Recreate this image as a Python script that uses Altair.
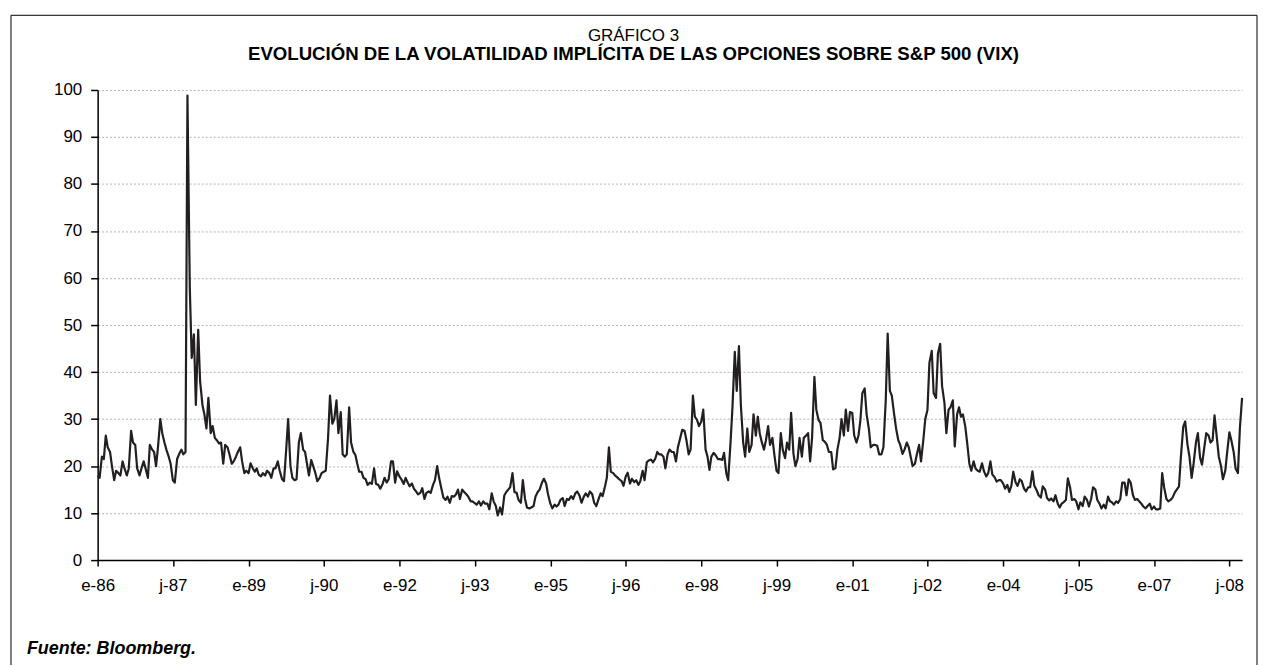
import json
import altair as alt
import pandas as pd

START = "1986-01-01"
VIX = [
    18, 17.5, 22, 21.5, 26.5, 24, 23, 20, 17, 19,
    18.5, 18, 21, 19.5, 18, 19.5, 27.5, 25, 24.5, 19.5,
    18, 19.5, 21, 19.5, 17.5, 24.5, 23.5, 23, 20, 24,
    30, 27, 25, 23.5, 22, 20.5, 17, 16.5, 21.5, 22.5,
    23.5, 22.5, 23, 98.8, 58, 43, 48, 33, 49, 38,
    33, 31, 28, 34.5, 27, 28.5, 26, 25.5, 24.8, 25,
    20.5, 24.5, 24, 22.5, 20.5, 21, 22, 23, 24, 21,
    18.5, 19, 18.5, 20.6, 19.5, 18.8, 19.5, 18.2, 17.8, 18.5,
    18, 19, 18.5, 17.5, 19.5, 19.5, 21, 19, 17.2, 16.8,
    23.5, 30, 20, 17.5, 17, 17.2, 25, 27, 23.5, 23,
    20.5, 18, 21.3, 20, 18.5, 16.8, 17.5, 18.5, 18.8, 19,
    26, 35, 29, 30, 34, 27, 31.5, 22.5, 22, 22.5,
    32.5, 25, 23, 22.4, 20.5, 18.8, 18.8, 17.5, 17.2, 16,
    16.5, 16.2, 19.5, 16.2, 16, 15.2, 16.2, 17.5, 16.5, 17.2,
    21, 21, 16.5, 18.9, 17.8, 17.2, 16.2, 17.5, 16.5, 15.7,
    16.3, 15.2, 14.6, 14, 14.3, 15.3, 13, 14.3, 14.6, 14.3,
    16, 17, 20, 17.5, 15.2, 13.3, 12.8, 13.5, 12.2, 13.6,
    13.5, 14, 15, 13, 15, 14.5, 14, 13.5, 12.5, 12.5,
    12.1, 11.8, 12.5, 11.6, 12.5, 12, 12, 10.8, 14.2, 12.5,
    11.5, 9.5, 11.2, 9.7, 13.8, 14.5, 15, 15.5, 18.5, 14.5,
    14.3, 12.8, 12.2, 17, 13, 11.2, 11, 11.2, 11.5, 13.5,
    14.5, 15, 16.5, 17.3, 16.3, 14, 12, 11, 11.8, 11.4,
    11.8, 12.8, 13.2, 11.5, 13, 12.8, 13.6, 13, 14.2, 14.6,
    13.7, 12.2, 13.5, 14.2, 13.5, 14.6, 14, 12.2, 11.5, 12.8,
    14.2, 13.6, 15.6, 17.5, 24, 18.8, 18.5, 18, 17.6, 17.2,
    16.8, 15.8, 17.8, 18.6, 16.3, 17.3, 16.6, 17, 16, 16.8,
    19, 17, 20.8, 21.2, 21.4, 20.8, 21.6, 23, 22.5, 22.5,
    22, 19.5, 22.5, 23.5, 23, 23, 21, 24, 26, 27.7,
    27.5, 25.5, 22.5, 23.5, 35, 30.5, 29.8, 28.5, 29.5, 32,
    23.5, 22, 19.2, 22, 22.8, 22.3, 21.5, 21.5, 21.3, 22.8,
    18.5, 17, 25, 32.5, 44.3, 36, 45.5, 33, 25, 22,
    28, 23, 24.5, 31, 26.5, 30.5, 27, 25.2, 23.5, 25.5,
    28.5, 24.5, 26, 22.5, 19, 18.5, 27, 23.5, 21.7, 25,
    23.5, 31.3, 22.6, 20, 21.5, 26, 22, 26, 26.5, 27,
    21, 26, 39, 32, 29.8, 29.2, 25.5, 25.2, 24.5, 23,
    23, 19.3, 19.6, 23.5, 26, 30, 26.5, 32, 27.5, 31.5,
    31.3, 26.5, 25, 26.5, 29.8, 35.5, 36.5, 31, 28, 24,
    24.5, 24.5, 24.3, 22.5, 22.5, 24, 34, 48.2, 36, 35,
    31, 28, 25.5, 24.5, 22.6, 23.5, 25, 24, 22, 20,
    20.5, 22.5, 24.5, 21, 25.6, 30, 32, 42, 44.5, 35.5,
    34.5, 44, 46, 37, 33.5, 27, 32, 32.5, 34, 24.2,
    31, 32.5, 30.5, 31, 28.5, 25, 20.5, 19, 21, 19.5,
    19, 18.8, 20.6, 18.9, 17.8, 18.5, 21, 18.2, 17.6, 16.7,
    17, 17, 16.3, 15.2, 16, 14.5, 15.8, 18.8, 16.5, 15.8,
    17.2, 16.8, 15.2, 14.6, 15.5, 15.5, 18.9, 15.8, 14.8, 13.8,
    13.3, 15.7, 15, 13.2, 12.7, 13.1, 12.5, 13.8, 12, 11.2,
    12, 12.3, 12.8, 17.4, 15.5, 12.8, 13, 12.5, 10.8, 12.3,
    11.5, 13.5, 12.8, 11.4, 13, 15.5, 15, 12.8, 12, 11,
    11.8, 11, 13.5, 12.5, 12.3, 11.8, 12.5, 12.2, 13, 16.5,
    16.5, 13.8, 17.2, 16.5, 13.8, 12.8, 13, 12.5, 12, 11.4,
    11, 11.5, 12, 10.8, 11.4, 10.8, 10.8, 11, 18.5, 15.5,
    13, 12.5, 12.8, 13.3, 14.4, 15, 15.7, 22, 28.4, 29.5,
    24.5, 22, 17.5, 20.5, 25, 27, 21.8, 20.3, 24, 27,
    26.5, 25, 25.5, 30.8, 26, 22, 20, 17.2, 19, 23,
    27.2, 25.5, 23, 19.5, 18.5, 28, 34.5,
]

TICK_LABELS = ["e-86", "j-87", "e-89", "j-90", "e-92", "j-93", "e-95", "j-96",
               "e-98", "j-99", "e-01", "j-02", "e-04", "j-05", "e-07", "j-08"]
Y_TICKS = [0, 10, 20, 30, 40, 50, 60, 70, 80, 90, 100]

TITLE_TOP = "GRÁFICO 3"
TITLE_MAIN = "EVOLUCIÓN DE LA VOLATILIDAD IMPLÍCITA DE LAS OPCIONES SOBRE S&P 500 (VIX)"
SOURCE = "Fuente: Bloomberg."

FONT = "Liberation Sans"
INK = "#231f20"

dates = pd.date_range(START, periods=len(VIX), freq="SMS")
df = pd.DataFrame({"fecha": dates, "vix": VIX})

tick_values = [alt.DateTime(year=1986 + (k * 18) // 12, month=1 + (k * 18) % 12, date=1)
               for k in range(len(TICK_LABELS))]
d0, d1 = dates[0], dates[-1]
x_domain = [alt.DateTime(year=d0.year, month=d0.month, date=d0.day),
            alt.DateTime(year=d1.year, month=d1.month, date=d1.day)]

label_expr = (json.dumps(TICK_LABELS).replace('"', "'")
              + "[round(((year(datum.value)-1986)*12+month(datum.value))/18)]")

line = alt.Chart(df).mark_line(color=INK, strokeWidth=2.2, strokeJoin="round").encode(
    x=alt.X("fecha:T", title=None,
            scale=alt.Scale(domain=x_domain),
            axis=alt.Axis(values=tick_values, labelExpr=label_expr, grid=False,
                          labelFont=FONT, labelFontSize=17, labelColor="black",
                          labelPadding=12, labelAngle=0, labelFlush=False,
                          labelOverlap=False, tickSize=6, tickColor="black",
                          tickWidth=1.5, domainColor="black", domainWidth=1.5)),
    y=alt.Y("vix:Q", title=None,
            scale=alt.Scale(domain=[0, 100], nice=False),
            axis=alt.Axis(values=Y_TICKS, grid=True, gridColor="#b3b3b3",
                          gridDash=[2, 2], gridWidth=1,
                          labelFont=FONT, labelFontSize=17, labelColor="black",
                          labelPadding=9, tickSize=7, tickColor="black",
                          tickWidth=1.5, domainColor="black", domainWidth=1.5)),
)

one = pd.DataFrame({"k": [0]})
frame = alt.Chart(one).mark_rect(filled=False, stroke="black", strokeWidth=1).encode(
    x=alt.value(-87), x2=alt.value(1164), y=alt.value(-75), y2=alt.value(640))

t_top = alt.Chart(one).mark_text(text=TITLE_TOP, font=FONT, fontSize=17,
                                 align="center", baseline="middle", color="black").encode(
    x=alt.value(538), y=alt.value(-54))
t_main = alt.Chart(one).mark_text(text=TITLE_MAIN, font=FONT, fontSize=18.7, fontWeight="bold",
                                  align="center", baseline="middle", color="black").encode(
    x=alt.value(538), y=alt.value(-36))
t_src = alt.Chart(one).mark_text(text=SOURCE, font=FONT, fontSize=18, fontWeight="bold",
                                 fontStyle="italic", align="left", baseline="alphabetic",
                                 color="black").encode(
    x=alt.value(-71), y=alt.value(566))

chart = alt.layer(frame, line, t_top, t_main, t_src).properties(
    width=1149, height=472,
    padding={"left": 90, "top": 81, "right": 17, "bottom": 104},
    autosize=alt.AutoSizeParams(type="none"),
    background="white",
).configure_view(stroke=None)

chart.save("out.html", embed_options={"renderer": "svg", "actions": False})
